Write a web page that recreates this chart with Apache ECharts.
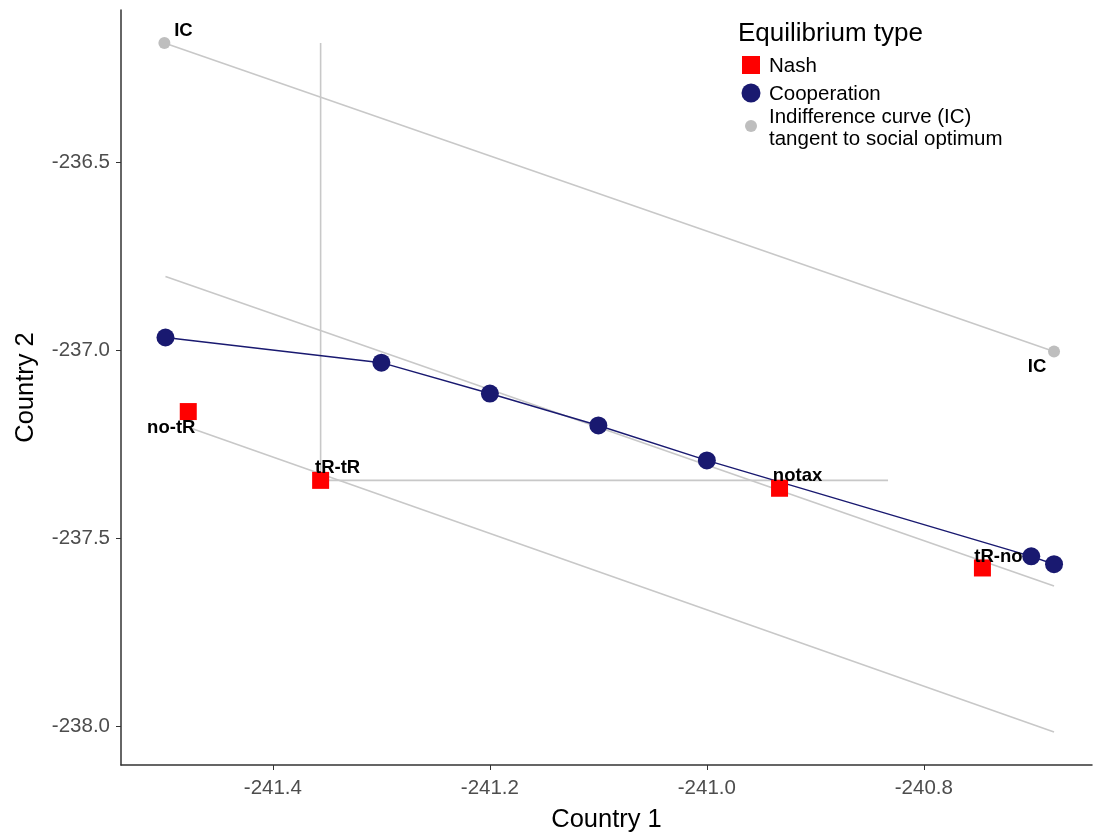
<!DOCTYPE html>
<html>
<head>
<meta charset="utf-8">
<script src="https://cdn.jsdelivr.net/npm/echarts@6/dist/echarts.min.js"></script>
<style>
html,body{margin:0;padding:0;background:#fff;}
#chart{width:1095px;height:838px;}
</style>
</head>
<body>
<div id="chart"></div>
<script>
// ---- data ----
const coopX = [-241.499, -241.300, -241.200, -241.100, -241.000, -240.701, -240.680];
const coopY = [-236.967, -237.034, -237.116, -237.201, -237.294, -237.549, -237.570];
const nashX = [-241.478, -241.356, -240.933, -240.746];
const nashY = [-237.164, -237.347, -237.368, -237.580];
const nashLabels = ['no-tR', 'tR-tR', 'notax', 'tR-no'];
const icX = [-241.500, -240.680];
const icY = [-236.184, -237.004];
const icLabels = ['IC', 'IC'];
// gray reference lines: [x1, y1, x2, y2]
const icLine2 = [-241.499, -236.805, -240.680, -237.628];
const icLine3 = [-241.478, -237.206, -240.680, -238.016];
const vLine = [-241.356, -236.184, -241.356, -237.347];
const hLine = [-241.356, -237.347, -240.833, -237.347];
const xTicks = [-241.4, -241.2, -241.0, -240.8];
const yTicks = [-238.0, -237.5, -237.0, -236.5];
const legendTitle = 'Equilibrium type';
const legendItems = ['Nash', 'Cooperation', 'Indifference curve (IC)\ntangent to social optimum'];

// ---- build ----
const FONT = 'Liberation Sans, Arial, sans-serif';
const zip = (xs, ys) => xs.map((x, i) => [x, ys[i]]);
const seg = a => [[a[0], a[1]], [a[2], a[3]]];
const grayLine = (d) => ({
  type: 'line', data: d, symbol: 'none', silent: true,
  lineStyle: { color: '#c8c8c8', width: 1.6 }, z: 1
});
const nashOffsets = [[-17, 16], [17, -12], [18, -12], [16, -11]];
const icOffsets = [[19, -12], [-17, 16]];
const labelStyle = { fontFamily: FONT, fontWeight: 'bold', fontSize: 18.5, color: '#000' };

const chart = echarts.init(document.getElementById('chart'), null, { renderer: 'canvas' });
chart.setOption({
  animation: false,
  backgroundColor: '#fff',
  grid: { left: 121, right: 3, top: 10, bottom: 71, containLabel: false },
  xAxis: {
    type: 'value', min: -241.540, max: -240.645,
    name: 'Country 1', nameLocation: 'middle', nameGap: 42,
    nameTextStyle: { fontFamily: FONT, fontSize: 25.5, color: '#000' },
    axisLine: { show: true, onZero: false, lineStyle: { color: '#333', width: 1.5 } },
    axisTick: { show: true, length: 5, customValues: xTicks, lineStyle: { color: '#333' } },
    axisLabel: { customValues: xTicks, margin: 13, fontFamily: FONT, fontSize: 20.5, color: '#4d4d4d',
      formatter: v => v.toFixed(1) },
    splitLine: { show: false }
  },
  yAxis: {
    type: 'value', min: -238.104, max: -236.096,
    name: 'Country 2', nameLocation: 'middle', nameGap: 82, nameRotate: 90,
    nameTextStyle: { fontFamily: FONT, fontSize: 25.5, color: '#000' },
    axisLine: { show: true, onZero: false, lineStyle: { color: '#333', width: 1.5 } },
    axisTick: { show: true, length: 5, customValues: yTicks, lineStyle: { color: '#333' } },
    axisLabel: { customValues: yTicks, margin: 11, fontFamily: FONT, fontSize: 20.5, color: '#4d4d4d',
      formatter: v => v.toFixed(1) },
    splitLine: { show: false }
  },
  series: [
    grayLine(zip(icX, icY)),
    grayLine(seg(icLine2)),
    grayLine(seg(icLine3)),
    grayLine(seg(vLine)),
    grayLine(seg(hLine)),
    {
      name: 'IC', type: 'scatter', symbol: 'circle', symbolSize: 12, z: 3,
      itemStyle: { color: '#bebebe', opacity: 1 },
      data: zip(icX, icY).map((p, i) => ({
        value: p,
        label: { show: true, formatter: icLabels[i], position: 'inside', offset: icOffsets[i], ...labelStyle }
      }))
    },
    {
      name: 'Cooperation', type: 'line', data: zip(coopX, coopY), z: 4,
      symbol: 'circle', symbolSize: 18, showSymbol: true,
      lineStyle: { color: '#191970', width: 1.4 },
      itemStyle: { color: '#191970', opacity: 1 }
    },
    {
      name: 'Nash', type: 'scatter', symbol: 'rect', symbolSize: 17, z: 5,
      itemStyle: { color: '#ff0000', opacity: 1 },
      data: zip(nashX, nashY).map((p, i) => ({
        value: p,
        label: { show: true, formatter: nashLabels[i], position: 'inside', offset: nashOffsets[i], ...labelStyle }
      }))
    }
  ],
  graphic: [
    { type: 'text', left: 738, top: 21, style: { text: legendTitle, font: '26px ' + FONT, fill: '#000' } },
    { type: 'rect', shape: { x: 742, y: 56, width: 18, height: 18 }, style: { fill: '#ff0000' } },
    { type: 'text', left: 769, top: 56, style: { text: legendItems[0], font: '20.5px ' + FONT, fill: '#000' } },
    { type: 'circle', shape: { cx: 751, cy: 93, r: 9.5 }, style: { fill: '#191970' } },
    { type: 'text', left: 769, top: 84, style: { text: legendItems[1], font: '20.5px ' + FONT, fill: '#000' } },
    { type: 'circle', shape: { cx: 751, cy: 126, r: 6 }, style: { fill: '#bebebe' } },
    { type: 'text', left: 769, top: 106, style: { text: legendItems[2], font: '20.5px ' + FONT, fill: '#000', lineHeight: 22 } }
  ]
});
</script>
</body>
</html>
